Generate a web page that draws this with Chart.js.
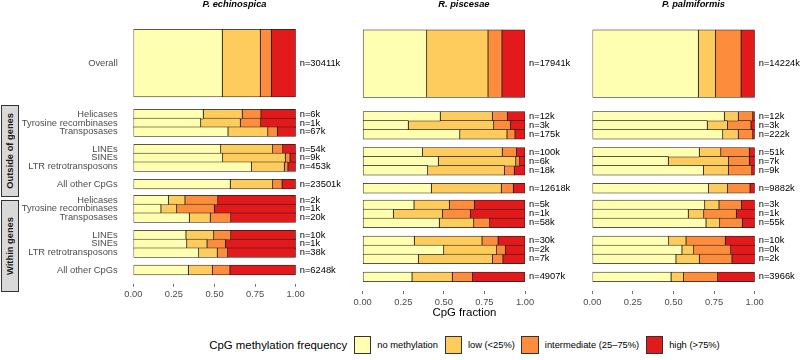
<!DOCTYPE html>
<html>
<head>
<meta charset="utf-8">
<script src="https://cdn.jsdelivr.net/npm/chart.js@4.4.1/dist/chart.umd.min.js"></script>
<style>
  html, body { margin: 0; padding: 0; background: #fff; }
  body { width: 800px; height: 360px; position: relative; overflow: hidden;
         font-family: 'Liberation Sans', Arial, Helvetica, sans-serif; color: #000; }
  canvas { position: absolute; top: 0; }
  .title { position: absolute; top: -1px; width: 200px; text-align: center; font-weight: bold;
           font-style: italic; font-size: 9.33px; line-height: 10px; white-space: nowrap; }
  .strip { position: absolute; left: 1px; width: 17.5px; box-sizing: border-box; background: #d9d9d9;
           border: 1px solid #333; display: flex; align-items: center; justify-content: center; }
  .strip span { writing-mode: vertical-rl; transform: rotate(180deg); font-weight: bold;
                font-size: 9.33px; color: #1a1a1a; white-space: nowrap; }
  #xtitle { position: absolute; left: 364.5px; width: 200px; top: 305px; line-height: 15px;
            text-align: center; font-size: 11.4px; }
  #legend { position: absolute; left: 133.3px; width: 662.4px; top: 336px; height: 18px;
            display: flex; align-items: center; justify-content: center; white-space: nowrap; }
  #legend .ltitle { font-size: 11.4px; margin-right: 6.6px; }
  #legend .key { width: 17.4px; height: 17.4px; box-sizing: border-box; border: 1px solid #333; }
  #legend .lab { font-size: 9.33px; margin: 0 6.6px 0 6px; }
  #legend .lab:last-child { margin-right: 0; }
</style>
</head>
<body>
<canvas id="c0" width="330" height="305" style="left:20px"></canvas>
<canvas id="c1" width="230" height="305" style="left:345px"></canvas>
<canvas id="c2" width="225" height="305" style="left:575px"></canvas>
<div id="xtitle">CpG fraction</div>
<div id="legend"></div>
<script>
const species = ['P. echinospica', 'R. piscesae', 'P. palmiformis'];
const categories = ['Overall',
  'Helicases', 'Tyrosine recombinases', 'Transposases', 'LINEs', 'SINEs', 'LTR retrotransposons', 'All other CpGs',
  'Helicases', 'Tyrosine recombinases', 'Transposases', 'LINEs', 'SINEs', 'LTR retrotransposons', 'All other CpGs'];
const genomicContext = ['Overall',
  'Outside of genes', 'Outside of genes', 'Outside of genes', 'Outside of genes', 'Outside of genes', 'Outside of genes', 'Outside of genes',
  'Within genes', 'Within genes', 'Within genes', 'Within genes', 'Within genes', 'Within genes', 'Within genes'];
const levels = ['no methylation', 'low (<25%)', 'intermediate (25\u201375%)', 'high (>75%)'];

// CpG fraction per methylation level, rows in the order of categories
const echinospicaNone = [0.548, 0.431, 0.415, 0.583, 0.538, 0.550, 0.727, 0.597, 0.216, 0.170, 0.345, 0.324, 0.329, 0.402, 0.339];
const echinospicaLow  = [0.234, 0.240, 0.244, 0.245, 0.320, 0.386, 0.203, 0.261, 0.102, 0.097, 0.129, 0.171, 0.125, 0.115, 0.148];
const echinospicaMid  = [0.068, 0.115, 0.125, 0.059, 0.062, 0.029, 0.022, 0.058, 0.202, 0.232, 0.126, 0.105, 0.113, 0.064, 0.108];
const echinospicaHigh = [0.150, 0.214, 0.216, 0.113, 0.080, 0.035, 0.048, 0.084, 0.480, 0.501, 0.400, 0.400, 0.433, 0.419, 0.405];
const echinospicaN = ['30411k', '6k', '1k', '67k', '54k', '9k', '453k', '23501k', '2k', '1k', '20k', '10k', '1k', '38k', '6248k'];

const piscesaeNone = [0.394, 0.478, 0.281, 0.598, 0.368, 0.466, 0.400, 0.423, 0.316, 0.189, 0.472, 0.318, 0.499, 0.343, 0.304];
const piscesaeLow  = [0.378, 0.321, 0.526, 0.291, 0.492, 0.477, 0.473, 0.431, 0.218, 0.302, 0.212, 0.417, 0.326, 0.456, 0.248];
const piscesaeMid  = [0.086, 0.092, 0.103, 0.049, 0.087, 0.024, 0.061, 0.074, 0.154, 0.172, 0.098, 0.099, 0.054, 0.065, 0.124];
const piscesaeHigh = [0.142, 0.109, 0.090, 0.062, 0.053, 0.033, 0.066, 0.072, 0.312, 0.337, 0.218, 0.166, 0.121, 0.136, 0.324];
const piscesaeN = ['17941k', '12k', '3k', '175k', '100k', '6k', '18k', '12618k', '5k', '1k', '58k', '30k', '2k', '7k', '4907k'];

const palmiformisNone = [0.653, 0.813, 0.708, 0.803, 0.659, 0.468, 0.684, 0.715, 0.692, 0.591, 0.700, 0.470, 0.552, 0.515, 0.485];
const palmiformisLow  = [0.105, 0.086, 0.124, 0.096, 0.132, 0.370, 0.154, 0.117, 0.088, 0.095, 0.084, 0.107, 0.072, 0.144, 0.076];
const palmiformisMid  = [0.158, 0.089, 0.145, 0.089, 0.176, 0.129, 0.144, 0.139, 0.138, 0.201, 0.140, 0.242, 0.228, 0.201, 0.211];
const palmiformisHigh = [0.084, 0.012, 0.023, 0.012, 0.033, 0.033, 0.018, 0.029, 0.082, 0.113, 0.076, 0.181, 0.148, 0.140, 0.228];
const palmiformisN = ['14224k', '12k', '3k', '222k', '51k', '7k', '9k', '9882k', '3k', '1k', '55k', '10k', '0k', '2k', '3966k'];

const colors = ['#ffffb2', '#fecc5c', '#fd8d3c', '#e31a1c'];
Chart.defaults.font.family = "'Liberation Sans', Arial, Helvetica, sans-serif";

// vertical layout, in row units
const Y_MIN = -0.3, Y_MAX = 27.79;
const AREA_TOP = 20.41, AREA_BOTTOM = 291.07, CANVAS_H = 305;
const UNIT = (AREA_BOTTOM - AREA_TOP) / (Y_MAX - Y_MIN);
const OVERALL_SIZE = 7, BLOCK_GAP = 1, FACET_GAP = 0.85, OVERALL_GAP = 1.86;
const blockStarts = ['Helicases', 'LINEs', 'All other CpGs'];

const rowPos = [], rowSize = [];
let cursor = 0;
categories.forEach((c, i) => {
  const size = c === 'Overall' ? OVERALL_SIZE : 1;
  if (i > 0) {
    if (genomicContext[i] !== genomicContext[i - 1]) {
      cursor += genomicContext[i - 1] === 'Overall' ? OVERALL_GAP : FACET_GAP;
    } else if (blockStarts.includes(c)) {
      cursor += BLOCK_GAP;
    }
  }
  rowPos.push(cursor + size / 2);
  rowSize.push(size);
  cursor += size;
});

// strips on the left for the two genomic contexts
['Outside of genes', 'Within genes'].forEach(ctx => {
  const idx = genomicContext.map((g, i) => g === ctx ? i : -1).filter(i => i >= 0);
  const first = idx[0], last = idx[idx.length - 1];
  const top = AREA_TOP + (rowPos[first] - rowSize[first] / 2 - Y_MIN) * UNIT - 3.3;
  const bottom = AREA_TOP + (rowPos[last] + rowSize[last] / 2 - Y_MIN) * UNIT + 1.6;
  const el = document.createElement('div');
  el.className = 'strip';
  el.style.top = top + 'px';
  el.style.height = (bottom - top) + 'px';
  el.innerHTML = '<span>' + ctx + '</span>';
  document.body.appendChild(el);
});

// legend
const legend = document.getElementById('legend');
legend.innerHTML = '<span class="ltitle">CpG methylation frequency</span>' +
  levels.map((l, i) => '<span class="key" style="background:' + colors[i] + '"></span><span class="lab"></span>').join('');
legend.querySelectorAll('.lab').forEach((el, i) => { el.textContent = levels[i]; });

const panels = [
  {canvas: 'c0', left: 20, padLeft: 0, yWidth: 113.3, rightWidth: 54.3, labels: true,
   series: [echinospicaNone, echinospicaLow, echinospicaMid, echinospicaHigh], n: echinospicaN},
  {canvas: 'c1', left: 345, padLeft: 17.7, yWidth: 0, rightWidth: 50, labels: false,
   series: [piscesaeNone, piscesaeLow, piscesaeMid, piscesaeHigh], n: piscesaeN},
  {canvas: 'c2', left: 575, padLeft: 17.3, yWidth: 0, rightWidth: 45.3, labels: false,
   series: [palmiformisNone, palmiformisLow, palmiformisMid, palmiformisHigh], n: palmiformisN}
];

const setRowTicks = (scale) => { scale.ticks = rowPos.map(v => ({value: v})); };

panels.forEach((p, k) => {
  const datasets = [];
  p.series.forEach((values, L) => {
    const common = {
      label: levels[L],
      backgroundColor: colors[L],
      borderColor: '#1f1f1f',
      borderWidth: 0.75,
      borderSkipped: false
    };
    datasets.push(Object.assign({}, common, {
      data: [{x: values[0], y: rowPos[0]}],
      barThickness: rowSize[0] * UNIT
    }));
    datasets.push(Object.assign({}, common, {
      data: values.slice(1).map((v, i) => ({x: v, y: rowPos[i + 1]})),
      barThickness: UNIT
    }));
  });

  new Chart(document.getElementById(p.canvas), {
    type: 'bar',
    data: {datasets: datasets},
    options: {
      indexAxis: 'y',
      responsive: false,
      animation: false,
      events: [],
      layout: {padding: {top: AREA_TOP, bottom: 0, left: p.padLeft, right: 0}},
      plugins: {legend: {display: false}, tooltip: {enabled: false}},
      scales: {
        x: {
          type: 'linear', stacked: true, min: 0, max: 1,
          border: {display: false},
          grid: {drawOnChartArea: false, tickLength: 3, color: '#333', lineWidth: 0.7},
          ticks: {stepSize: 0.25, padding: 2.5, color: '#4d4d4d', font: {size: 9.33},
                  callback: v => v.toFixed(2)},
          afterFit: s => { s.height = CANVAS_H - AREA_BOTTOM; }
        },
        y: {
          type: 'linear', stacked: true, reverse: true, min: Y_MIN, max: Y_MAX,
          display: p.labels, position: 'left',
          border: {display: false},
          grid: {display: false, drawTicks: false},
          afterBuildTicks: setRowTicks,
          ticks: {autoSkip: false, padding: 15.6, color: '#4d4d4d', font: {size: 9.33},
                  callback: (v, i) => categories[i]},
          afterFit: s => { s.width = p.yWidth; }
        },
        n: {
          type: 'linear', position: 'right', reverse: true, min: Y_MIN, max: Y_MAX,
          border: {display: false},
          grid: {display: false, drawTicks: false},
          afterBuildTicks: setRowTicks,
          ticks: {autoSkip: false, padding: 4, color: '#000', font: {size: 9.33},
                  callback: (v, i) => 'n=' + p.n[i]},
          afterFit: s => { s.width = p.rightWidth; }
        }
      }
    }
  });

  // species title, centred over panel plus count labels
  const t = document.createElement('div');
  t.className = 'title';
  const areaLeft = p.left + p.padLeft + p.yWidth;
  t.style.left = (areaLeft + 101.2 - 100) + 'px';
  t.textContent = species[k];
  document.body.appendChild(t);
});
</script>
</body>
</html>
